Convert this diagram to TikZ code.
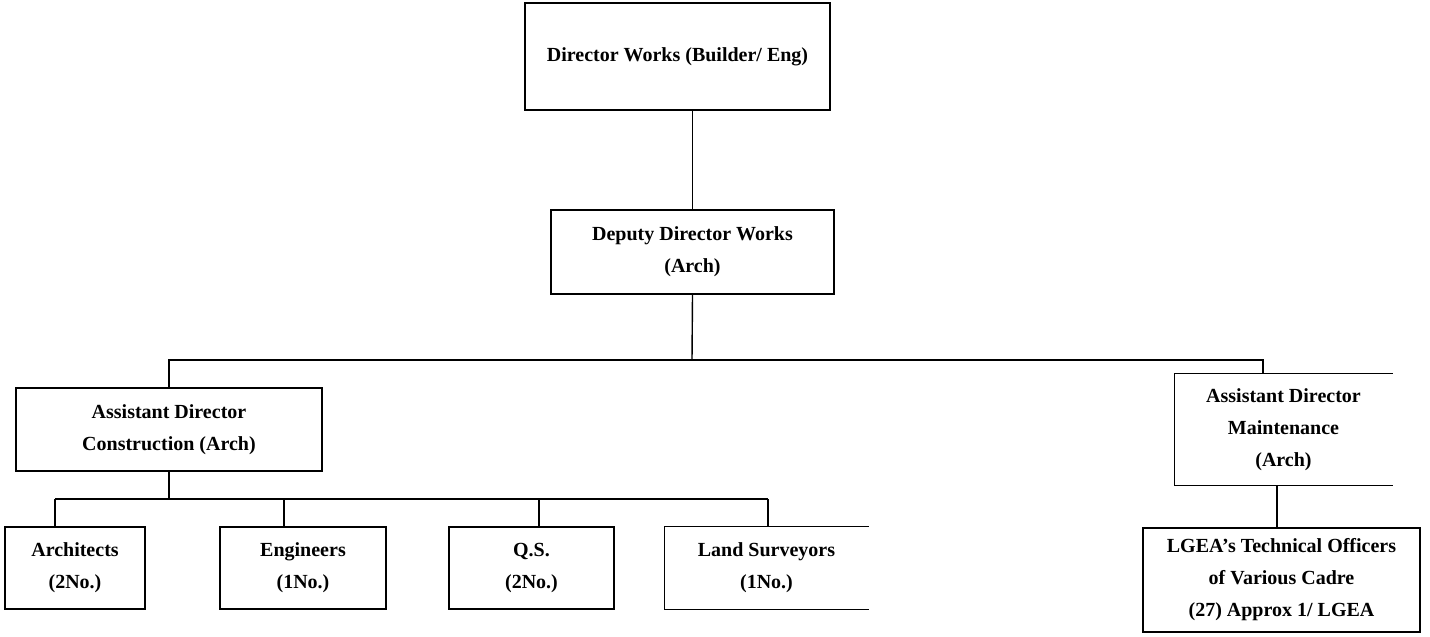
\documentclass[tikz,border=0pt]{standalone}
\usepackage{fontspec}
\setmainfont{Liberation Serif}

\begin{document}
\begin{tikzpicture}[x=0.5pt,y=-0.5pt,line width=0.7pt,
  poste/.style={align=center,inner sep=0pt,font=\bfseries\fontsize{10}{16}\selectfont},
  boite/.style={poste,draw}]
  \useasboundingbox (0,0) rectangle (1430,637);
  % Direction
  \node[boite,minimum width=152.5pt,minimum height=53.5pt] (dir) at (677.5,56.5) {Director Works (Builder/ Eng)};
  \node[boite,minimum width=141.5pt,minimum height=42pt] (dep) at (692.5,252) {Deputy Director Works\\(Arch)};
  \draw (dep.north) -- (dep.north |- dir.south);

  % Assistants
  \node[boite,minimum width=153pt,minimum height=41.5pt] (adc) at (169,429.5) {Assistant Director\\Construction (Arch)};
  \node[poste,minimum width=108.5pt,minimum height=55.5pt] (adm) at (1283.5,429.5) {Assistant Director\\Maintenance\\(Arch)};
  \draw (adm.north east) -| (adm.south west) -- (adm.south east);
  \coordinate (bus) at (692,360);
  \coordinate (busd) at (1263,360);
  \draw (dep.south) -- (bus);
  \draw (adc.north) |- (busd) -- (busd |- adm.north);

  % Construction
  \node[boite,minimum width=70pt,minimum height=41pt] (arc) at (75,568) {Architects\\(2No.)};
  \node[boite,minimum width=83pt,minimum height=41pt] (eng) at (303,568) {Engineers\\(1No.)};
  \node[boite,minimum width=82.5pt,minimum height=41pt] (qs) at (531.5,568) {Q.S.\\(2No.)};
  \node[poste,minimum width=101.5pt,minimum height=41pt] (ls) at (766.5,568) {Land Surveyors\\(1No.)};
  \draw (ls.north east) -| (ls.south west) -- (ls.south east);
  \foreach \n/\x in {arc/55,eng/284,qs/539,ls/768}
    \coordinate (t\n) at (\x,499);
  \draw (adc.south) -- (adc.south |- tarc);
  \draw (tarc) -- (tls);
  \foreach \n in {arc,eng,qs,ls}
    \draw (t\n) -- (t\n |- \n.north);

  % Maintenance
  \node[boite,minimum width=138.5pt,minimum height=52pt] (lgea) at (1281.5,580) {LGEA's Technical Officers\\of Various Cadre\\(27) Approx 1/ LGEA};
  \coordinate (m) at (1277,485);
  \draw (m) -- (m |- lgea.north);
\end{tikzpicture}
\end{document}
